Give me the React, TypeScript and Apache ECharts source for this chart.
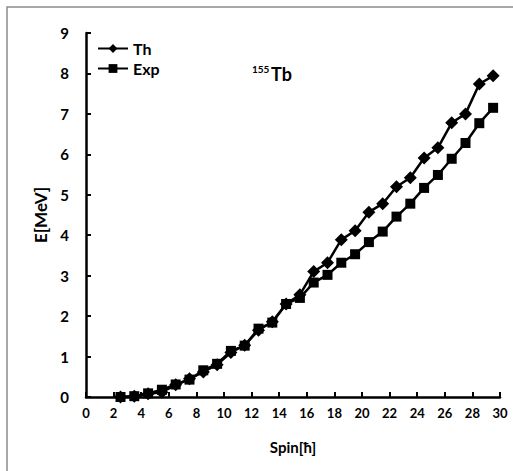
import React, { useEffect, useRef } from "react";
import * as echarts from "echarts";

const spin = [2.5, 3.5, 4.5, 5.5, 6.5, 7.5, 8.5, 9.5, 10.5, 11.5, 12.5, 13.5, 14.5, 15.5, 16.5, 17.5, 18.5, 19.5, 20.5, 21.5, 22.5, 23.5, 24.5, 25.5, 26.5, 27.5, 28.5, 29.5];
const thValues = [0, 0.02, 0.08, 0.12, 0.3, 0.45, 0.62, 0.8, 1.1, 1.28, 1.65, 1.86, 2.3, 2.53, 3.1, 3.32, 3.89, 4.11, 4.57, 4.78, 5.2, 5.42, 5.91, 6.16, 6.78, 7.0, 7.74, 7.94];
const expValues = [0, 0.02, 0.09, 0.18, 0.31, 0.43, 0.66, 0.82, 1.14, 1.27, 1.69, 1.84, 2.3, 2.45, 2.83, 3.02, 3.32, 3.53, 3.83, 4.09, 4.46, 4.78, 5.17, 5.49, 5.89, 6.28, 6.77, 7.15];
const seriesNames = ["Th", "Exp"];
const xAxisTitle = "Spin[ħ]";
const yAxisTitle = "E[MeV]";
const nucleusMass = "155";
const nucleusSymbol = "Tb";

const FONT = "Lato, 'Open Sans', sans-serif";

export default function App() {
  const ref = useRef<HTMLDivElement>(null);
  useEffect(() => {
    if (!ref.current) return;
    const chart = echarts.init(ref.current, null, { renderer: "svg" });
    const lineCommon = {
      type: "line" as const,
      lineStyle: { color: "#000", width: 2.5 },
      itemStyle: { color: "#000" },
      z: 3,
    };
    chart.setOption({
      animation: false,
      backgroundColor: "#fff",
      textStyle: { fontFamily: FONT },
      grid: { left: 86, top: 33, width: 414, height: 364 },
      legend: {
        orient: "vertical",
        left: 92,
        top: 35,
        itemWidth: 30,
        itemHeight: 11,
        itemGap: 3,
        textStyle: { fontFamily: FONT, fontWeight: "bold", fontSize: 16, color: "#000", lineHeight: 17 },
        data: seriesNames,
      },
      xAxis: {
        type: "value",
        min: 0,
        max: 30,
        interval: 2,
        name: xAxisTitle,
        nameLocation: "middle",
        nameGap: 42,
        nameTextStyle: { fontFamily: FONT, fontWeight: "bold", fontSize: 15, color: "#000" },
        axisLine: { lineStyle: { color: "#000", width: 2.5 } },
        axisTick: { inside: true, length: 5, lineStyle: { color: "#000", width: 2 } },
        splitLine: { show: false },
        axisLabel: { fontFamily: FONT, fontWeight: "bold", fontSize: 13, color: "#000", margin: 9 },
      },
      yAxis: {
        type: "value",
        min: 0,
        max: 9,
        interval: 1,
        name: yAxisTitle,
        nameLocation: "middle",
        nameGap: 17,
        nameRotate: 90,
        nameTextStyle: { fontFamily: FONT, fontWeight: "bold", fontSize: 17, color: "#000", verticalAlign: "middle" },
        axisLine: { show: true, lineStyle: { color: "#000", width: 2.5 } },
        axisTick: { show: true, inside: true, length: 5, lineStyle: { color: "#000", width: 2 } },
        splitLine: { show: false },
        axisLabel: { fontFamily: FONT, fontWeight: "bold", fontSize: 15, color: "#000", margin: 17 },
      },
      graphic: [
        {
          type: "rect",
          shape: { x: 7, y: 7, width: 700, height: 700 },
          style: { fill: "none", stroke: "#8c8c8c", lineWidth: 1.5 },
          silent: true,
        },
        {
          type: "text",
          left: 252,
          top: 64,
          style: { text: nucleusMass, fontFamily: FONT, fontSize: 10, fontWeight: "bold", fill: "#000" },
        },
        {
          type: "text",
          left: 271,
          top: 65,
          style: { text: nucleusSymbol, fontFamily: FONT, fontSize: 18, fontWeight: "bold", fill: "#000" },
        },
      ],
      series: [
        {
          ...lineCommon,
          name: seriesNames[0],
          symbol: "diamond",
          symbolSize: 13,
          data: spin.map((s, i) => [s, thValues[i]]),
        },
        {
          ...lineCommon,
          name: seriesNames[1],
          symbol: "rect",
          symbolSize: 10,
          data: spin.map((s, i) => [s, expValues[i]]),
        },
      ],
    });
    return () => chart.dispose();
  }, []);
  return (
    <div
      ref={ref}
      style={{ position: "absolute", left: 0, top: 0, width: 513, height: 471 }}
    />
  );
}
